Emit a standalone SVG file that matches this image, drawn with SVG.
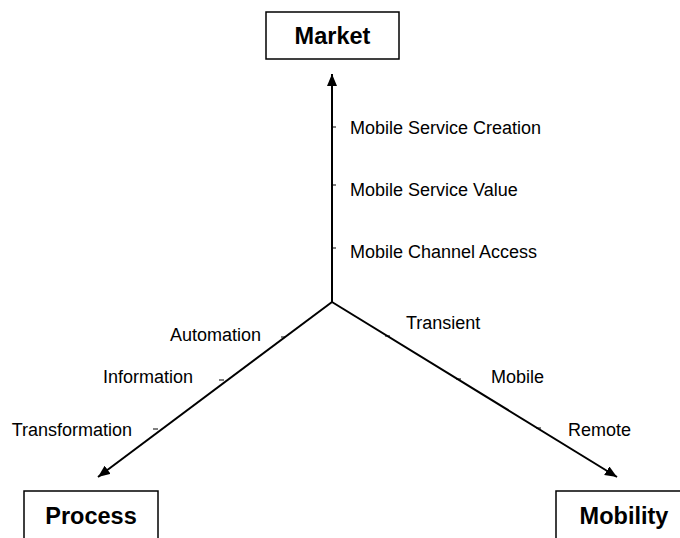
<svg xmlns="http://www.w3.org/2000/svg" width="680" height="538" viewBox="0 0 680 538">
  <style>
    .box { fill: #ffffff; stroke: #000000; stroke-width: 1.5; }
    .title { font-family: "Liberation Sans", Arial, sans-serif; font-weight: bold; font-size: 23.5px; fill: #000000; text-anchor: middle; }
    .axis { stroke: #000000; stroke-width: 2; fill: none; }
    .tick { stroke: #000000; stroke-width: 1; }
    .label { font-family: "Liberation Sans", Arial, sans-serif; font-size: 18px; fill: #000000; }
    .end { text-anchor: end; }
  </style>
  <defs>
    <marker id="arrow" markerUnits="userSpaceOnUse" markerWidth="13" markerHeight="11" refX="12" refY="5" orient="auto">
      <path d="M0,0 L12,5 L0,10 Z" fill="#000000"/>
    </marker>
  </defs>
  <rect width="680" height="538" fill="#ffffff"/>

  <!-- axes with scale ticks -->
  <g id="connectors">
    <line class="axis" x1="332" y1="302" x2="332" y2="74" marker-end="url(#arrow)"/>
    <line class="axis" x1="332" y1="302" x2="98" y2="477" marker-end="url(#arrow)"/>
    <line class="axis" x1="332" y1="302" x2="617" y2="477" marker-end="url(#arrow)"/>
    <line class="tick" x1="332" y1="127" x2="336" y2="127"/>
    <line class="tick" x1="332" y1="185" x2="336" y2="185"/>
    <line class="tick" x1="332" y1="248" x2="336" y2="248"/>
    <line class="tick" x1="281" y1="337" x2="285" y2="337"/>
    <line class="tick" x1="219" y1="380" x2="224" y2="380"/>
    <line class="tick" x1="153" y1="429" x2="158" y2="429"/>
    <line class="tick" x1="385" y1="336" x2="390" y2="336"/>
    <line class="tick" x1="456" y1="379" x2="461" y2="379"/>
    <line class="tick" x1="536" y1="428" x2="541" y2="428"/>
  </g>

  <g id="market">
    <rect class="box" x="266" y="12" width="133" height="47"/>
    <text class="title" x="332.5" y="43.5">Market</text>
  </g>
  <g id="process">
    <rect class="box" x="24" y="491" width="134" height="60"/>
    <text class="title" x="91" y="523.5">Process</text>
  </g>
  <g id="mobility">
    <rect class="box" x="556" y="491" width="134" height="60"/>
    <text class="title" x="624" y="523.5">Mobility</text>
  </g>

  <!-- market scale -->
  <g id="market-labels">
    <text class="label" x="350" y="134">Mobile Service Creation</text>
    <text class="label" x="350" y="196">Mobile Service Value</text>
    <text class="label" x="350" y="258">Mobile Channel Access</text>
  </g>
  <!-- process scale -->
  <g id="process-labels">
    <text class="label end" x="261" y="341">Automation</text>
    <text class="label end" x="193" y="383">Information</text>
    <text class="label end" x="132" y="436">Transformation</text>
  </g>
  <!-- mobility scale -->
  <g id="mobility-labels">
    <text class="label" x="406" y="329">Transient</text>
    <text class="label" x="491" y="383">Mobile</text>
    <text class="label" x="568" y="436">Remote</text>
  </g>
</svg>
